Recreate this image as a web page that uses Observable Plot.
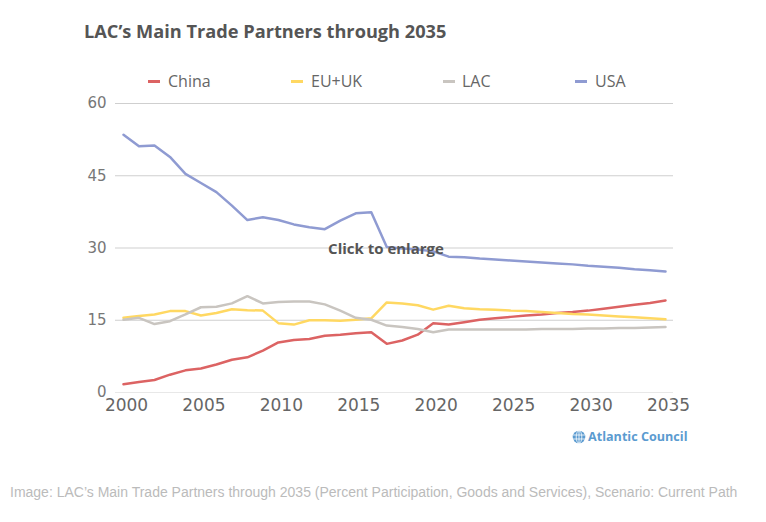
<!DOCTYPE html>
<html>
<head>
<meta charset="utf-8">
<script src="https://cdn.jsdelivr.net/npm/d3@7"></script>
<script src="https://cdn.jsdelivr.net/npm/@observablehq/plot@0.6"></script>
<style>
  html, body { margin: 0; padding: 0; background: #fff; }
  #wrap { position: relative; width: 766px; height: 522px; overflow: hidden; }
  #title { position: absolute; left: 84px; top: 19px; font-family: "Open Sans", sans-serif; font-weight: 700; font-size: 18.2px; color: #555; }
  #legend { position: absolute; left: 0; top: 71px; width: 766px; height: 20px; font-family: "Open Sans", sans-serif; font-size: 16px; color: #666; }
  .item { position: absolute; top: 0; line-height: 20px; }
  .dash { position: absolute; top: 9px; width: 12px; height: 2.5px; }
  #chart { position: absolute; left: 0; top: 0; }
  #click { position: absolute; left: 0; width: 772px; top: 238px; text-align: center; font-family: "Open Sans", sans-serif; font-weight: 700; font-size: 15px; color: #555; line-height: 20px; }
  #brand { position: absolute; left: 572px; top: 428px; font-family: "Open Sans", sans-serif; font-weight: 700; font-size: 12.6px; color: #5b9bd0; display: flex; align-items: center; gap: 2px; }
  #caption { position: absolute; left: 10px; top: 484px; font-family: "Liberation Sans", Arial, sans-serif; font-size: 14px; color: #bbb; white-space: nowrap; }
</style>
</head>
<body>
<div id="wrap">
  <div id="chart"></div>
  <div id="title">LAC’s Main Trade Partners through 2035</div>
  <div id="legend"></div>
  <div id="click">Click to enlarge</div>
  <div id="brand"><svg width="14" height="14" viewBox="0 0 14 14"><circle cx="7" cy="7" r="6.3" fill="#5b9bd0"/><g stroke="#fff" stroke-width="0.8" fill="none"><ellipse cx="7" cy="7" rx="2.8" ry="6.3"/><line x1="7" y1="0.7" x2="7" y2="13.3"/><line x1="1" y1="5" x2="13" y2="5"/><line x1="1" y1="9" x2="13" y2="9"/></g></svg><span>Atlantic Council</span></div>
  <div id="caption">Image: LAC’s Main Trade Partners through 2035 (Percent Participation, Goods and Services), Scenario: Current Path</div>
</div>
<script>
const years = d3.range(2000, 2036);
const seriesNames = ["China", "EU+UK", "LAC", "USA"];
const seriesColors = ["#dc6363", "#ffd862", "#c9c5c0", "#8f9bd2"];
const china = [1.7, 2.2, 2.6, 3.7, 4.6, 5.0, 5.8, 6.8, 7.3, 8.7, 10.4, 10.9, 11.1, 11.8, 12.0, 12.3, 12.5, 10.1, 10.8, 12.0, 14.4, 14.1, 14.6, 15.1, 15.4, 15.7, 16.0, 16.2, 16.5, 16.7, 17.0, 17.4, 17.8, 18.2, 18.6, 19.1];
const euuk = [15.5, 15.9, 16.2, 16.9, 16.9, 16.0, 16.5, 17.3, 17.1, 17.0, 14.4, 14.1, 15.0, 15.0, 14.9, 15.1, 15.4, 18.7, 18.5, 18.1, 17.2, 18.0, 17.5, 17.3, 17.2, 17.0, 16.9, 16.7, 16.5, 16.3, 16.2, 16.0, 15.8, 15.6, 15.4, 15.2];
const lac = [15.1, 15.5, 14.2, 14.8, 16.2, 17.7, 17.8, 18.5, 20.0, 18.5, 18.8, 18.9, 18.9, 18.3, 17.0, 15.5, 15.1, 13.9, 13.6, 13.2, 12.5, 13.1, 13.1, 13.1, 13.1, 13.1, 13.1, 13.2, 13.2, 13.2, 13.3, 13.3, 13.4, 13.4, 13.5, 13.6];
const usa = [53.5, 51.1, 51.3, 48.9, 45.4, 43.5, 41.6, 38.8, 35.8, 36.4, 35.8, 34.9, 34.3, 33.9, 35.7, 37.2, 37.4, 30.2, 29.9, 29.7, 29.3, 28.2, 28.1, 27.8, 27.6, 27.4, 27.2, 27.0, 26.8, 26.6, 26.3, 26.1, 25.9, 25.6, 25.4, 25.1];
const xTicks = [2000, 2005, 2010, 2015, 2020, 2025, 2030, 2035];
const yTicks = [0, 15, 30, 45, 60];

const valuesBySeries = [china, euuk, lac, usa];
const data = [];
seriesNames.forEach((name, i) => {
  years.forEach((yr, j) => data.push({series: name, year: yr, value: valuesBySeries[i][j]}));
});

const chart = Plot.plot({
  width: 766,
  height: 460,
  marginTop: 103,
  marginBottom: 68,
  marginLeft: 123,
  marginRight: 101,
  style: {fontFamily: "DejaVu Sans, sans-serif", background: "transparent"},
  x: {domain: [2000, 2035]},
  y: {domain: [0, 60]},
  color: {domain: seriesNames, range: seriesColors},
  marks: [
    Plot.ruleY(yTicks.filter(d => d > 0), {stroke: "#cfcfcf", strokeWidth: 1, insetLeft: -8, insetRight: -8}),
    Plot.ruleY([0], {stroke: "#e8e8e8", strokeWidth: 1, insetLeft: -8, insetRight: -8}),
    Plot.axisY({ticks: yTicks, tickSize: 0, tickPadding: 17, fontSize: 15, fill: "#777", label: null, tickFormat: d => String(d)}),
    Plot.axisX({ticks: xTicks, tickSize: 0, tickPadding: 6, fontSize: 17, fill: "#666", label: null, tickFormat: d => String(d), dx: 3}),
    Plot.line(data, {x: "year", y: "value", z: "series", stroke: "series", strokeWidth: 2.5, strokeLinejoin: "round", strokeLinecap: "round"})
  ]
});
document.getElementById("chart").appendChild(chart);

// legend
const legendPos = [[148, 168], [291, 311], [443, 462], [575, 595]];
const legend = document.getElementById("legend");
seriesNames.forEach((name, i) => {
  const dash = document.createElement("div");
  dash.className = "dash";
  dash.style.left = legendPos[i][0] + "px";
  dash.style.background = seriesColors[i];
  legend.appendChild(dash);
  const t = document.createElement("div");
  t.className = "item";
  t.style.left = legendPos[i][1] + "px";
  t.textContent = name;
  legend.appendChild(t);
});
</script>
</body>
</html>
